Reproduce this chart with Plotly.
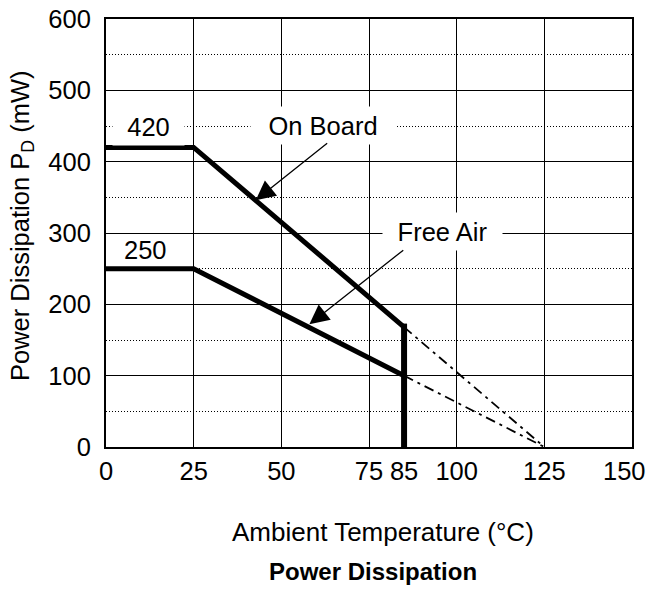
import plotly.graph_objects as go

# ---- data ----
onboard_x = [0, 25, 85]
onboard_y = [420, 420, 168]
freeair_x = [0, 25, 85]
freeair_y = [250, 250, 100]
cutoff_x = [85, 85]
cutoff_y = [0, 173]
onboard_ext_x = [85, 125]
onboard_ext_y = [168, 0]
freeair_ext_x = [85, 125]
freeair_ext_y = [100, 0]

x_tickvals = [0, 25, 50, 75, 85, 100, 125, 150]
x_ticktext = ["0", "25", "50", "75", "85", "100", "125", "150"]
y_tickvals = [0, 100, 200, 300, 400, 500, 600]

FONT = "Liberation Sans, Arial, sans-serif"
FS = 25.5
fig = go.Figure()

thick = dict(color="black", width=5)
fig.add_trace(go.Scatter(x=onboard_x, y=onboard_y, mode="lines", line=thick, showlegend=False))
fig.add_trace(go.Scatter(x=freeair_x, y=freeair_y, mode="lines", line=thick, showlegend=False))
fig.add_trace(go.Scatter(x=cutoff_x, y=cutoff_y, mode="lines", line=dict(color="black", width=6), showlegend=False))
dd = dict(color="black", width=1.8, dash="10px,5px,3px,5px")
fig.add_trace(go.Scatter(x=onboard_ext_x, y=onboard_ext_y, mode="lines", line=dd, showlegend=False))
fig.add_trace(go.Scatter(x=freeair_ext_x, y=freeair_ext_y, mode="lines", line=dd, showlegend=False, xaxis="x2"))

fig.update_layout(
    width=650, height=610,
    margin=dict(l=106, r=18, t=19, b=163, autoexpand=False),
    paper_bgcolor="white", plot_bgcolor="white",
    font=dict(family=FONT, size=FS, color="black"),
    xaxis=dict(range=[0, 150], dtick=25, tick0=0, showgrid=True, gridcolor="black", gridwidth=1.3,
               showticklabels=False, ticks="", showline=True, linecolor="black", linewidth=2,
               mirror=True, zeroline=False, automargin=False),
    xaxis2=dict(range=[0, 150], overlaying="x", side="bottom", tickmode="array",
                tickvals=x_tickvals[:-1], ticktext=x_ticktext[:-1],
                showgrid=False, zeroline=False, ticks="", showline=False, automargin=False,
                ticklabeloverflow="allow",
                tickfont=dict(size=FS, family=FONT, color="black"), ticklabelstandoff=6),
    yaxis=dict(range=[0, 600], tickmode="array", tickvals=y_tickvals, showgrid=True, gridcolor="black",
               gridwidth=1.3, ticks="", showline=True, linecolor="black", linewidth=2, mirror=True,
               zeroline=False, automargin=False, ticklabeloverflow="allow",
               tickfont=dict(size=FS, family=FONT, color="black"), ticklabelstandoff=8,
               minor=dict(dtick=50, tick0=0, showgrid=True, gridcolor="black", gridwidth=1,
                          griddash="1px,2px")),
)

# last x tick label, kept inside the page edge
fig.add_annotation(x=x_tickvals[-1], xref="x", yref="paper", y=-0.057, xanchor="right",
                   yanchor="middle", xshift=16, text=x_ticktext[-1], showarrow=False,
                   font=dict(size=FS))

# value labels and callouts
fig.add_annotation(x=12, y=450, text="420", showarrow=False, bgcolor="white", width=69, height=35,
                   font=dict(size=FS))
fig.add_annotation(x=11.3, y=276, text="250", showarrow=False, font=dict(size=FS))
fig.add_annotation(x=62, y=451, text="On Board", showarrow=False, bgcolor="white", width=142, height=35,
                   font=dict(size=FS))
fig.add_annotation(x=96, y=302, text="Free Air", showarrow=False, bgcolor="white", width=117, height=35,
                   font=dict(size=FS))

# arrows
arr = dict(showarrow=True, arrowhead=2, arrowsize=3.0, arrowwidth=1.3, arrowcolor="black",
           axref="x", ayref="y", text="")
fig.add_annotation(x=42.7, y=346, ax=63.5, ay=427.6, **arr)
fig.add_annotation(x=58, y=172, ax=85.2, ay=277.6, **arr)

# axis titles
fig.add_annotation(xref="paper", yref="paper", x=-0.16, y=0.516, xanchor="center", yanchor="middle",
                   textangle=-90, text="Power Dissipation P<sub>D</sub> (mW)", showarrow=False,
                   font=dict(size=FS))
fig.add_annotation(xref="paper", yref="paper", x=0.527, y=-0.199, xanchor="center", yanchor="middle",
                   text="Ambient Temperature (°C)", showarrow=False, font=dict(size=26))
fig.add_annotation(xref="paper", yref="paper", x=0.508, y=-0.29, xanchor="center", yanchor="middle",
                   text="<b>Power Dissipation</b>", showarrow=False, font=dict(size=24))

fig.write_html("out.html")
